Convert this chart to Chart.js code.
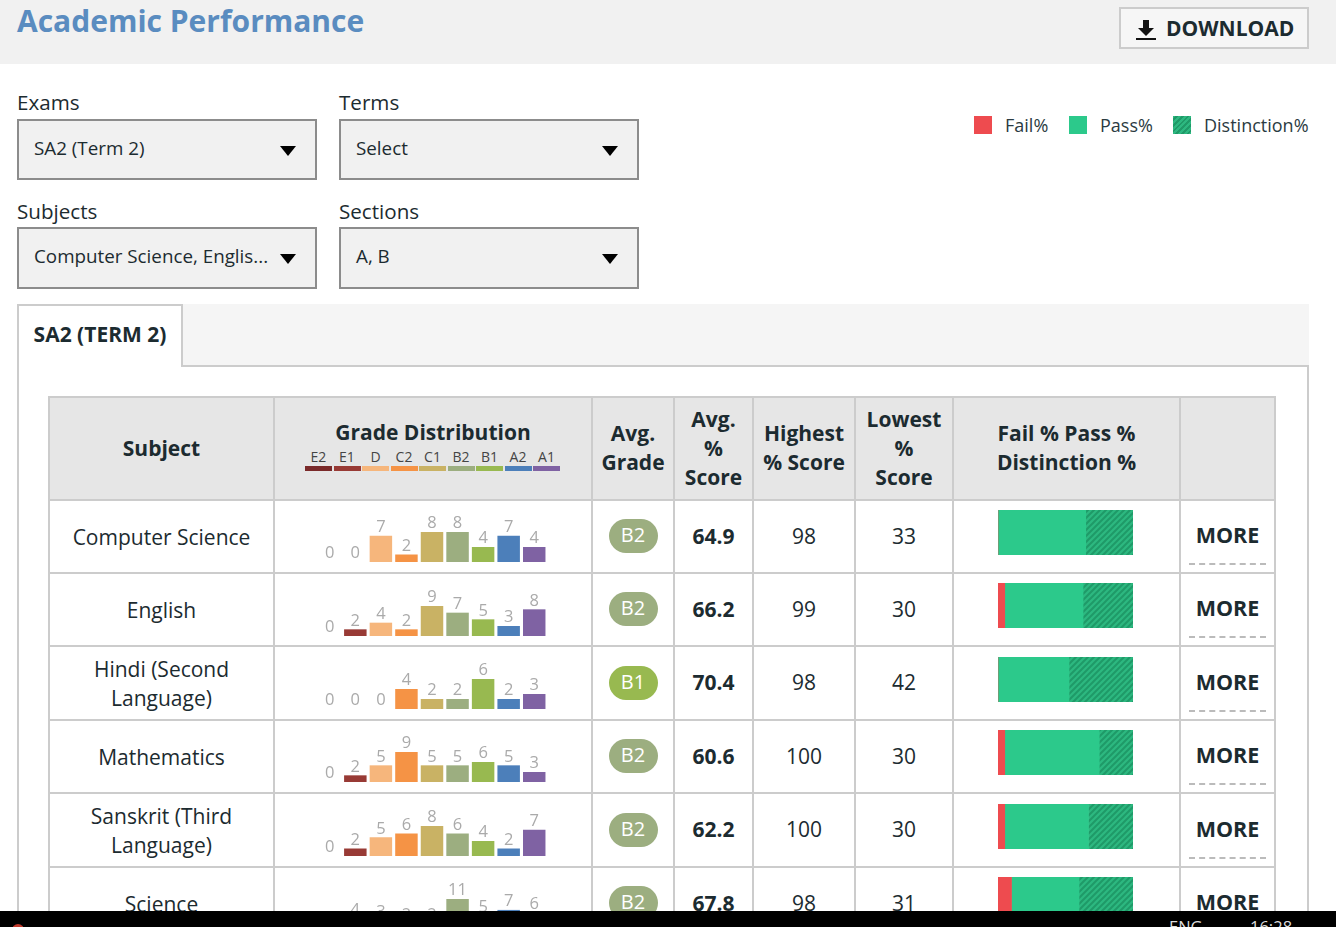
<!DOCTYPE html>
<html>
<head>
<meta charset="utf-8">
<title>Academic Performance</title>
<script src="https://cdn.jsdelivr.net/npm/chart.js@4"></script>
<style>
    * { box-sizing: border-box; }
    html, body { margin: 0; padding: 0; width: 1336px; height: 927px; overflow: hidden; background: #fff; }
    body { position: relative; font-family: "Open Sans", sans-serif; color: #1c2b30; }
    .abs { position: absolute; }
    #top { left: 0; top: 0; width: 1336px; height: 64px; background: #f1f1f1; }
    #title { left: 17px; top: 0; font-size: 30px; line-height: 42px; font-weight: 700; color: #5a8cc0; white-space: nowrap; }
    #download { left: 1119px; top: 7px; width: 190px; height: 42px; border: 2px solid #ccc; background: #f6f6f6; font-size: 21px; font-weight: 700; line-height: 39px; padding-left: 45px; white-space: nowrap; }
    #download svg { position: absolute; left: 15px; top: 9px; }
    .lbl { font-size: 20.6px; line-height: 28px; white-space: nowrap; }
    .sel { width: 300px; height: 61px; background: #f1f1f1; border: 2px solid #8c8c8c; font-size: 18.8px; line-height: 54px; padding-left: 15px; white-space: nowrap; }
    .sel:after { content: ""; position: absolute; right: 19px; top: 25px; border-left: 8px solid transparent; border-right: 8px solid transparent; border-top: 10px solid #000; }
    .legsq { width: 18px; height: 18px; top: 116px; }
    .legtx { top: 112px; font-size: 18px; line-height: 26px; white-space: nowrap; color: #2b3b42; }
    #tabstrip { left: 17px; top: 304px; width: 1292px; height: 62px; background: #f5f5f5; }
    #panel { left: 17px; top: 365px; width: 1292px; height: 600px; border: 2px solid #ccc; }
    #tab { left: 17px; top: 304px; width: 166px; height: 63px; background: #fff; border: 2px solid #ccc; border-bottom: 0; font-size: 21px; font-weight: 700; line-height: 57px; text-align: center; white-space: nowrap; }
    #tbl { position: absolute; left: 48px; top: 396px; border-collapse: collapse; table-layout: fixed; background: #fff; }
    #tbl th, #tbl td { border: 2px solid #ccc; text-align: center; padding: 0 0 1px 0; font-size: 21px; line-height: 29px; }
    #tbl th { background: #e6e6e6; height: 103px; font-weight: 700; }
    #tbl td.sub { padding: 1px 0 0 0; }
    #tbl td.sc { font-weight: 700; }
    .pill { display: inline-block; width: 49px; height: 34px; border-radius: 17px; color: #fff; font-size: 20px; line-height: 32px; }
    #tbl td.more { position: relative; font-weight: 700; font-size: 21.5px; padding-bottom: 4px; }
    .more:after { content: ""; position: absolute; left: 8px; right: 8px; bottom: 7px; border-bottom: 2px dashed #bbb; }
    #gradehead { position: absolute; left: 305px; top: 447px; width: 255px; display: flex; justify-content: space-between; }
    #gradehead div { width: 27px; text-align: center; font-size: 14px; line-height: 19px; color: #444; font-weight: 400; border-bottom: 5px solid #000; white-space: nowrap; }
    #gradetitle { left: 274px; top: 418px; width: 318px; text-align: center; font-size: 21px; font-weight: 700; line-height: 29px; }
    canvas { position: absolute; display: block; }
    #taskbar { left: 0; top: 911px; width: 1336px; height: 16px; background: #000; color: #ddd; overflow: hidden; font-size: 16.5px; line-height: 20px; }
    #startdot { left: 12px; top: 13px; width: 12px; height: 6px; border-radius: 6px 6px 0 0; background: #c0392b; }
</style>
</head>
<body>
<div class="abs" id="top"></div>
<div class="abs" id="title">Academic Performance</div>
<div class="abs" id="download">
    <svg width="22" height="24" viewBox="0 0 22 24"><path d="M7 2h6v8h5l-8 8-8-8h5z" fill="#111"/><rect x="0" y="20" width="20" height="2" fill="#111"/></svg>DOWNLOAD
</div>

<div class="abs lbl" style="left:17px;top:88px">Exams</div>
<div class="abs sel" style="left:17px;top:119px">SA2 (Term 2)</div>
<div class="abs lbl" style="left:339px;top:88px">Terms</div>
<div class="abs sel" style="left:339px;top:119px">Select</div>
<div class="abs lbl" style="left:17px;top:197px">Subjects</div>
<div class="abs sel" style="left:17px;top:227px;height:62px">Computer Science, Englis...</div>
<div class="abs lbl" style="left:339px;top:197px">Sections</div>
<div class="abs sel" style="left:339px;top:227px;height:62px">A, B</div>

<div class="abs legsq" style="left:974px;background:#ee4b4f"></div>
<div class="abs legtx" style="left:1005px">Fail%</div>
<div class="abs legsq" style="left:1069px;background:#2cc98b"></div>
<div class="abs legtx" style="left:1100px">Pass%</div>
<div class="abs legsq" style="left:1173px;background:repeating-linear-gradient(135deg,#2db880 0 2px,#1f9a68 2px 4px)"></div>
<div class="abs legtx" style="left:1204px">Distinction%</div>

<div class="abs" id="tabstrip"></div>
<div class="abs" id="panel"></div>
<div class="abs" id="tab">SA2 (TERM 2)</div>

<table id="tbl"><thead></thead><tbody></tbody></table>
<div class="abs" id="gradetitle">Grade Distribution</div>
<div id="gradehead"></div>

<div class="abs" id="taskbar">
    <div class="abs" id="startdot"></div>
    <span class="abs" style="left:1169px;top:6px">ENG</span>
    <span class="abs" style="left:1250px;top:6px">16:28</span>
</div>

<script>
var grades = ["E2", "E1", "D", "C2", "C1", "B2", "B1", "A2", "A1"];
var gradeColors = ["#7a2a2a", "#983a35", "#f6b67c", "#f59345", "#c9b264", "#9cae80", "#98b950", "#4c7fba", "#7f62a3"];

var subjects = ["Computer Science", "English", "Hindi (Second<br>Language)", "Mathematics", "Sanskrit (Third<br>Language)", "Science"];
var avgGrade = ["B2", "B2", "B1", "B2", "B2", "B2"];
var avgScore = [64.9, 66.2, 70.4, 60.6, 62.2, 67.8];
var highest = [98, 99, 98, 100, 100, 98];
var lowest = [33, 30, 42, 30, 30, 31];

var computerCounts = [0, 0, 7, 2, 8, 8, 4, 7, 4];
var englishCounts = [0, 2, 4, 2, 9, 7, 5, 3, 8];
var hindiCounts = [0, 0, 0, 4, 2, 2, 6, 2, 3];
var mathsCounts = [0, 2, 5, 9, 5, 5, 6, 5, 3];
var sanskritCounts = [0, 2, 5, 6, 8, 6, 4, 2, 7];
var scienceCounts = [0, 4, 3, 2, 2, 11, 5, 7, 6];
var allCounts = [computerCounts, englishCounts, hindiCounts, mathsCounts, sanskritCounts, scienceCounts];

var failPct = [0, 5, 0, 5, 5, 10];
var passPct = [65, 58, 52.6, 70, 62, 50];
var distinctionPct = [35, 37, 47.4, 25, 33, 40];

var colWidths = [225, 318, 82, 79, 102, 98, 227, 95];
var rowHeights = [73, 73, 74, 73, 74, 73];
var heads = ["Subject", "", "Avg.<br>Grade", "Avg.<br>%<br>Score", "Highest<br>% Score", "Lowest<br>%<br>Score", "Fail % Pass %<br>Distinction %", ""];
var pillColors = { B2: "#9cae80", B1: "#98b950" };

// table
var tbl = document.getElementById("tbl");
var colgroup = document.createElement("colgroup");
colWidths.forEach(function (w) {
    colgroup.innerHTML += `<col style="width:${w}px">`;
});
tbl.style.width = colWidths.reduce(function (a, b) { return a + b; }) + "px";
tbl.insertBefore(colgroup, tbl.firstChild);
tbl.tHead.innerHTML = "<tr>" + heads.map(function (h) { return `<th>${h}</th>`; }).join("") + "</tr>";

var body = "";
for (var i = 0; i < subjects.length; i++) {
    body += `<tr style="height:${rowHeights[i]}px">
        <td class="sub">${subjects[i]}</td>
        <td></td>
        <td><span class="pill" style="background:${pillColors[avgGrade[i]]}">${avgGrade[i]}</span></td>
        <td class="sc">${avgScore[i]}</td>
        <td>${highest[i]}</td>
        <td>${lowest[i]}</td>
        <td></td>
        <td class="more">MORE</td>
    </tr>`;
}
tbl.tBodies[0].innerHTML = body;

// header legend for the grades
var gh = document.getElementById("gradehead");
grades.forEach(function (g, n) {
    gh.innerHTML += `<div style="border-color:${gradeColors[n]}">${g}</div>`;
});

function hatch() {
    var c = document.createElement("canvas");
    c.width = 6;
    c.height = 6;
    var x = c.getContext("2d");
    x.fillStyle = "#2db880";
    x.fillRect(0, 0, 6, 6);
    x.strokeStyle = "#1f9a68";
    x.lineWidth = 2;
    x.beginPath();
    x.moveTo(-1, 7); x.lineTo(7, -1);
    x.moveTo(-1, 1); x.lineTo(1, -1);
    x.moveTo(5, 7); x.lineTo(7, 5);
    x.stroke();
    return x.createPattern(c, "repeat");
}

// numbers over the bars
var barLabels = {
    id: "barLabels",
    afterDatasetsDraw: function (chart) {
        var ctx = chart.ctx;
        ctx.save();
        ctx.font = "16.5px 'Open Sans'";
        ctx.fillStyle = "#aaa";
        ctx.textAlign = "center";
        ctx.textBaseline = "bottom";
        chart.getDatasetMeta(0).data.forEach(function (bar, n) {
            ctx.fillText(chart.data.datasets[0].data[n], bar.x, bar.y);
        });
        ctx.restore();
    }
};

var rowBase = [562, 635.5, 709, 782, 856, 929];
var barTop = [510, 583, 657, 730, 804, 877];

function addCanvas(left, top, w, h) {
    var c = document.createElement("canvas");
    c.width = w;
    c.height = h;
    c.style.left = left + "px";
    c.style.top = top + "px";
    c.style.width = w + "px";
    c.style.height = h + "px";
    document.body.insertBefore(c, document.getElementById("taskbar"));
    return c;
}

allCounts.forEach(function (counts, r) {
    new Chart(addCanvas(317, rowBase[r] - 60, 230, 60), {
        type: "bar",
        data: {
            labels: grades,
            datasets: [{ data: counts, backgroundColor: gradeColors, barPercentage: 0.88, categoryPercentage: 1 }]
        },
        options: {
            responsive: false,
            animation: false,
            layout: { padding: { top: 30 } },
            plugins: { legend: { display: false }, tooltip: { enabled: false } },
            scales: {
                x: { display: false },
                y: { display: false, min: 0, max: Math.max.apply(null, counts) }
            }
        },
        plugins: [barLabels]
    });

    new Chart(addCanvas(998, barTop[r], 135, 45), {
        type: "bar",
        data: {
            labels: [subjects[r]],
            datasets: [
                { label: "Fail%", data: [failPct[r]], backgroundColor: "#ee4b4f" },
                { label: "Pass%", data: [passPct[r]], backgroundColor: "#2cc98b" },
                { label: "Distinction%", data: [distinctionPct[r]], backgroundColor: hatch() }
            ]
        },
        options: {
            indexAxis: "y",
            responsive: false,
            animation: false,
            datasets: { bar: { barPercentage: 1, categoryPercentage: 1 } },
            plugins: { legend: { display: false }, tooltip: { enabled: false } },
            scales: {
                x: { display: false, stacked: true, min: 0, max: 100 },
                y: { display: false, stacked: true }
            }
        }
    });
});
</script>
</body>
</html>
